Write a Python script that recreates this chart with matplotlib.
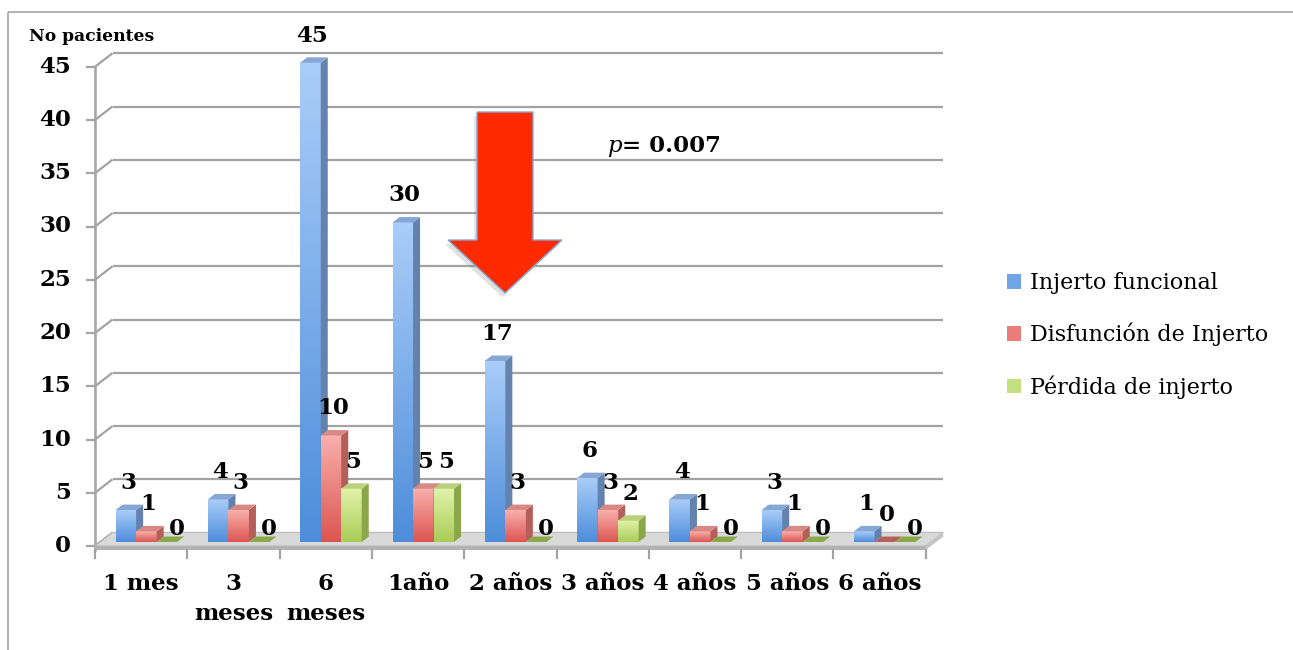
import numpy as np
import matplotlib
matplotlib.use("Agg")
import matplotlib.pyplot as plt
from matplotlib.patches import Polygon, Rectangle, FancyArrow
from matplotlib import patheffects as pe
from matplotlib.colors import to_rgb

# ---- data -------------------------------------------------------------
categories = ["1 mes", "3\nmeses", "6\nmeses", "1año", "2 años",
              "3 años", "4 años", "5 años", "6 años"]
injerto_funcional = [3, 4, 45, 30, 17, 6, 4, 3, 1]
disfuncion_injerto = [1, 3, 10, 5, 3, 3, 1, 1, 0]
perdida_injerto = [0, 0, 5, 5, 0, 2, 0, 0, 0]
series_names = ["Injerto funcional", "Disfunción de Injerto", "Pérdida de injerto"]
y_ticks = [0, 5, 10, 15, 20, 25, 30, 35, 40, 45]
y_title = "No pacientes"
p_value = "0.007"

series = [injerto_funcional, disfuncion_injerto, perdida_injerto]

# ---- styles -----------------------------------------------------------
# (top of gradient, bottom of gradient, side face, top face, legend swatch)
palettes = [
    ("#aacdf9", "#4d8dda", "#6382ad", "#86a7d6", "#6fa4e6"),
    ("#f9b0ac", "#dc5550", "#b55f5b", "#d98985", "#ec7c78"),
    ("#e2f3ab", "#a9cc56", "#8aa84a", "#b9d17c", "#c4df7e"),
]
GRID = "#a3a3a3"
SERIF = "DejaVu Serif"
LABEL_FS = 16.5

W, H = 1293, 650
fig = plt.figure(figsize=(W / 100, H / 100), dpi=100)
ax = fig.add_axes([0, 0, 1, 1])
ax.set_axis_off()

# pixel scale of the plot: category width and pixels per patient
X0_PX, PX_PER_CAT = 95.0, 92.3
Y0_PX, PX_PER_VAL = 546.0, 10.65
XLIM = (-X0_PX / PX_PER_CAT, (W - X0_PX) / PX_PER_CAT)
YLIM = ((Y0_PX - H) / PX_PER_VAL, Y0_PX / PX_PER_VAL)

# oblique depth of the 3-D box (one full depth unit)
DX = 17.5 / PX_PER_CAT
DY = 13.5 / PX_PER_VAL


def proj(x, y, d):
    return (x + d * DX, y + d * DY)


n = len(categories)
ymax = y_ticks[-1]

# ---- back wall gridlines and left wall diagonals -----------------------
for v in y_ticks:
    bx, by = proj(0, v, 1)
    ax.plot([0, bx], [v, by], color=GRID, lw=1.6, zorder=1, solid_capstyle="butt")
    ax.plot([bx, n + DX], [by, by], color=GRID, lw=1.6, zorder=1, solid_capstyle="butt")
    # tick mark on the front vertical axis
    ax.plot([-8 / PX_PER_CAT, 0], [v, v], color=GRID, lw=1.6, zorder=1)
    ax.text(-24 / PX_PER_CAT, v, str(v), ha="right", va="center",
            fontsize=LABEL_FS, fontweight="bold", family=SERIF, color="black")

ax.plot([0, 0], [-0.35, ymax], color=GRID, lw=1.8, zorder=1)

# ---- floor --------------------------------------------------------------
floor = Polygon([proj(0, 0, 0), proj(n, 0, 0), proj(n, 0, 1), proj(0, 0, 1)],
                closed=True, facecolor="#d9d9d9", edgecolor="#bcbcbc", lw=0.8, zorder=2)
ax.add_patch(floor)
slab_h = 0.38
ax.add_patch(Polygon([(0, 0), (n, 0), (n, -slab_h), (0, -slab_h)], closed=True,
                     facecolor="#b3b3b3", edgecolor="none", zorder=2))
ax.add_patch(Polygon([proj(n, 0, 0), proj(n, 0, 1), proj(n, -slab_h, 1), proj(n, -slab_h, 0)],
                     closed=True, facecolor="#c4c4c4", edgecolor="none", zorder=2))
for i in range(n + 1):
    ax.plot([i, i], [-slab_h, -slab_h - 8 / PX_PER_VAL], color=GRID, lw=1.6, zorder=2)

# ---- bars -----------------------------------------------------------------
bw = 1 / 4.5          # three bars plus a 150 % gap per category
first = 0.75 * bw
d0, d1 = 0.3, 0.7     # bars occupy the middle of the depth
last = len(series) - 1
z = 3
for i in range(n):
    for s, vals in enumerate(series):
        v = vals[i]
        top_c, bot_c, side_c, roof_c, _ = palettes[s]
        xl = i + first + s * bw
        xr = xl + bw
        if v > 0:
            fx0, fy0 = proj(xl, 0, d0)
            fx1, fy1 = proj(xr, v, d0)
            t = np.linspace(0, 1, 128)[:, None]
            grad = (1 - t) * np.array(to_rgb(bot_c)) + t * np.array(to_rgb(top_c))
            grad = grad[:, None, :]
            ax.imshow(grad, extent=(fx0, fx1, fy0, fy1), origin="lower",
                      aspect="auto", interpolation="bilinear", zorder=z)
            ax.add_patch(Polygon([proj(xr, 0, d0), proj(xr, 0, d1), proj(xr, v, d1), proj(xr, v, d0)],
                                 closed=True, facecolor=side_c, edgecolor="none", zorder=z))
            ax.add_patch(Polygon([proj(xl, v, d0), proj(xr, v, d0), proj(xr, v, d1), proj(xl, v, d1)],
                                 closed=True, facecolor=roof_c, edgecolor="none", zorder=z))
        else:
            ax.add_patch(Polygon([proj(xl, 0, d0), proj(xr, 0, d0), proj(xr, 0, d1), proj(xl, 0, d1)],
                                 closed=True, facecolor=side_c, edgecolor="none", zorder=z))
        cx, cy = proj((xl + xr) / 2, v, d0)
        # empty bars of the last series keep their label close to the floor
        offset = (10, 13) if (v == 0 and s == last) else (2, 27)
        ax.annotate(str(v), (cx, cy), xytext=offset, textcoords="offset pixels",
                    ha="center", va="center", fontsize=LABEL_FS, fontweight="bold",
                    family=SERIF, zorder=20)
        z += 1

# ---- category labels ------------------------------------------------------
for i, cat in enumerate(categories):
    ax.text(i + 0.5, (Y0_PX - 573) / PX_PER_VAL, cat, ha="center", va="top",
            fontsize=LABEL_FS, fontweight="bold", family=SERIF, linespacing=1.45)

# ---- axis title -------------------------------------------------------------
ax.text(-66 / PX_PER_CAT, (Y0_PX - 41) / PX_PER_VAL, y_title, ha="left", va="baseline",
        fontsize=12.3, fontweight="bold", family=SERIF)

# ---- significance arrow and p value -----------------------------------------
arrow_x = (505 - X0_PX) / PX_PER_CAT
arrow_top = (Y0_PX - 112) / PX_PER_VAL
arrow_tip = (Y0_PX - 293) / PX_PER_VAL
head_len = (293 - 240) / PX_PER_VAL
arrow = FancyArrow(arrow_x, arrow_top, 0, arrow_tip - arrow_top,
                   width=56 / PX_PER_CAT, head_width=114 / PX_PER_CAT,
                   head_length=head_len, length_includes_head=True,
                   facecolor="#ff2a00", edgecolor="#86a8d2", lw=1.0, zorder=30)
arrow.set_path_effects([pe.SimplePatchShadow(offset=(-2, -3), shadow_rgbFace="#888888", alpha=0.25),
                        pe.Normal()])
ax.add_patch(arrow)

ptxt = ax.text((607 - X0_PX) / PX_PER_CAT, (Y0_PX - 152) / PX_PER_VAL, "p",
               ha="left", va="baseline", fontsize=16.5, style="italic", family=SERIF)
ax.annotate("= " + p_value, xy=(1, 0), xycoords=ptxt, xytext=(0, 0),
            textcoords="offset pixels", ha="left", va="bottom",
            fontsize=16.5, fontweight="bold", family=SERIF)

# ---- legend -------------------------------------------------------------------
handles = [Rectangle((0, 0), 1, 1, facecolor=p[4], edgecolor="none") for p in palettes]
fig.legend(handles, series_names, loc="center left",
           bbox_to_anchor=(1007 / W, 1 - 335.5 / H), frameon=False,
           prop=dict(family=SERIF, size=16), handlelength=0.65, handleheight=0.65,
           handletextpad=0.4, labelspacing=1.3, borderpad=0, borderaxespad=0)

# ---- outer frame ----------------------------------------------------------------
ax.plot([8 / W, 1], [1 - 11.5 / H] * 2, color="#a6a6a6", lw=1.2, transform=ax.transAxes,
        clip_on=False, zorder=40, solid_capstyle="butt")
ax.plot([8 / W, 8 / W], [0, 1 - 11.5 / H], color="#a6a6a6", lw=1.2, transform=ax.transAxes,
        clip_on=False, zorder=40, solid_capstyle="butt")

ax.set_xlim(*XLIM)
ax.set_ylim(*YLIM)
fig.savefig("out.png", dpi=100)
